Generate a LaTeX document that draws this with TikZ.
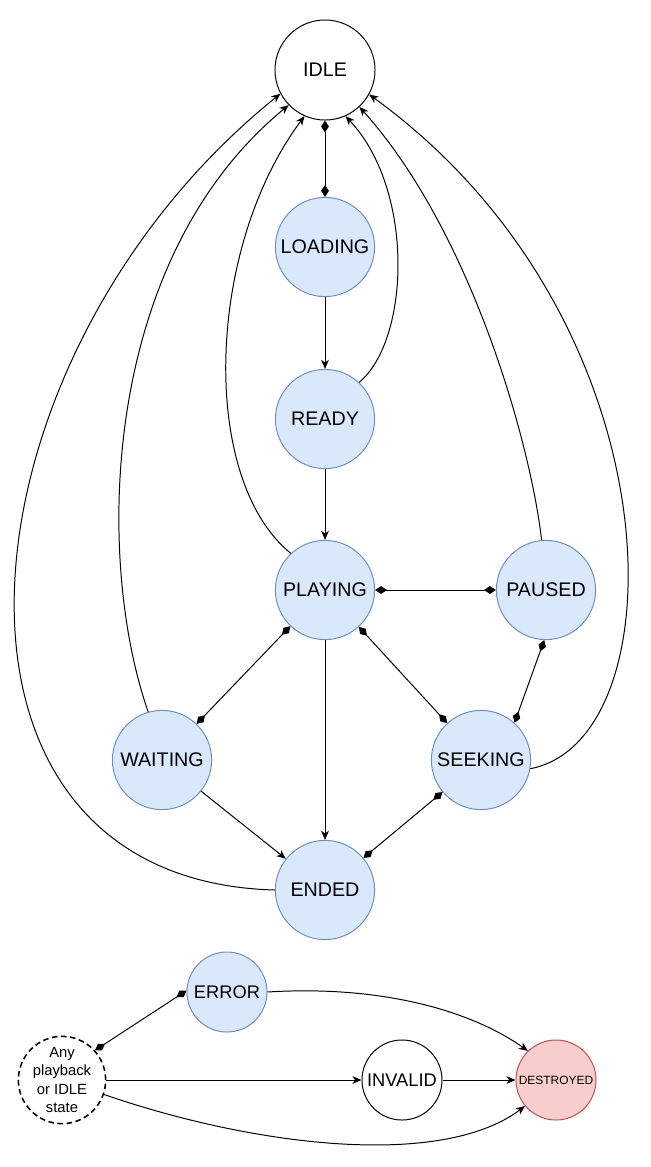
\documentclass[tikz,border=0pt]{standalone}
\usepackage{fontspec}
\setmainfont{Liberation Sans}
\usetikzlibrary{arrows.meta}
\definecolor{statefill}{HTML}{DAE8FC}
\definecolor{stateline}{HTML}{6C8EBF}
\definecolor{deadfill}{HTML}{F8CECC}
\definecolor{deadline}{HTML}{B85450}
\begin{document}
\begin{tikzpicture}[x=0.025cm,y=-0.025cm,line width=0.7pt,
  state node/.style={circle,draw=stateline,fill=statefill,minimum size=2.48cm,inner sep=0pt,font=\fontsize{14}{16}\selectfont},
  plain node/.style={circle,draw,minimum size=2.5cm,inner sep=0pt,font=\fontsize{14}{16}\selectfont},
  small node/.style={circle,minimum size=2cm,inner sep=0pt,font=\fontsize{13}{15}\selectfont},
  trans/.style={-{Stealth[length=6.5pt,width=5.5pt,inset=2pt]}},
  dlink/.style={{Diamond[length=8.5pt,width=5.5pt]}-{Diamond[length=8.5pt,width=5.5pt]}}]

  \useasboundingbox (0,0) rectangle (651,1167);

  \node[plain node] (idle) at (325,70) {IDLE};
  \node[state node] (loading) at (325,247) {LOADING};
  \node[state node] (ready) at (325,419) {READY};
  \node[state node] (playing) at (325,590) {PLAYING};
  \node[state node] (paused) at (546,590) {PAUSED};
  \node[state node] (waiting) at (162,760) {WAITING};
  \node[state node] (seeking) at (481,760) {SEEKING};
  \node[state node] (ended) at (325,890) {ENDED};

  \node[small node,draw=stateline,fill=statefill] (error) at (227,992) {ERROR};
  \node[small node,draw,dash pattern=on 4pt off 2.5pt,line width=1.1pt,align=center,
    font=\fontsize{10.5}{13}\selectfont] (any) at (62,1080) {Any\\playback\\or IDLE\\state};
  \node[small node,draw] (invalid) at (402,1080) {INVALID};
  \node[small node,draw=deadline,fill=deadfill,font=\fontsize{8.5}{10}\selectfont] (destroyed) at (556,1080) {DESTROYED};

  \path[trans]
   (loading) edge (ready)
   (ready) edge (playing)
   (playing) edge (ended)
   (waiting) edge (ended)
   (any) edge (invalid)
   (invalid) edge (destroyed);

  \path[dlink]
   (idle) edge (loading)
   (playing) edge (paused)
   (playing) edge (waiting)
   (playing) edge (seeking)
   (paused.268) edge (seeking.48)
   (seeking) edge (ended)
   (any.42) edge (error.178);

  % back to IDLE
  \draw[trans] (ended.180) .. controls (-95,880) and (-50,360) .. (idle.208);
  \draw[trans] (waiting.106) .. controls (95,560) and (100,260) .. (idle.224);
  \draw[trans] (playing.133) .. controls (200,480) and (205,250) .. (idle.246);
  \draw[trans] (ready.47) .. controls (410,340) and (415,190) .. (idle.294);
  \draw[trans] (paused.95) .. controls (530,440) and (470,230) .. (idle.313);
  \draw[trans] (seeking.350) .. controls (680,740) and (680,320) .. (idle.331);

  % to DESTROYED
  \draw[trans] (error.0) .. controls (380,985) and (470,1010) .. (destroyed.134);
  \draw[trans] (any.341) .. controls (250,1145) and (440,1170) .. (destroyed.220);
\end{tikzpicture}
\end{document}
